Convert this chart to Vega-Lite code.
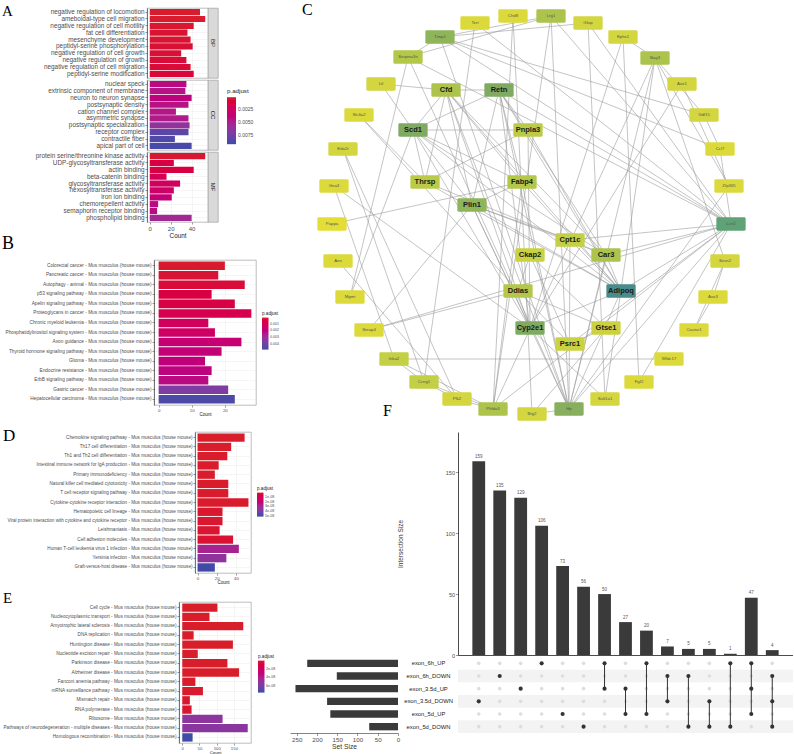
{
"$schema":"https://vega.github.io/schema/vega-lite/v6.json",
"padding":{"left":0,"top":1,"right":0,"bottom":0},
"background":"white",
"config":{
 "font":"Liberation Sans",
 "view":{"stroke":null},
 "axis":{"labelFlush":false,"labelOverlap":false,"titleFontWeight":"normal","labelColor":"#4D4D4D","titleColor":"#1A1A1A","tickColor":"#333333","tickWidth":0.5,"tickSize":2,"gridColor":"#EBEBEB","gridWidth":0.5,"labelPadding":1,"domainColor":"#333333","domainWidth":0.6},
 "legend":{"titleFontWeight":"normal","titleColor":"#1A1A1A","labelColor":"#4D4D4D","padding":0,"gradientStrokeWidth":0,"labelOverlap":false},
 "title":{"font":"Liberation Serif","fontWeight":"normal","fontSize":16,"color":"#000000","anchor":"start","frame":"group","offset":0,"baseline":"alphabetic"}
},
"datasets":{
 "goA":[
  {"cat":"BP","term":"negative regulation of locomotion","count":48,"p":0.0003},
  {"cat":"BP","term":"ameboidal-type cell migration","count":53,"p":0.0003},
  {"cat":"BP","term":"negative regulation of cell motility","count":42,"p":0.0004},
  {"cat":"BP","term":"fat cell differentiation","count":36,"p":0.0005},
  {"cat":"BP","term":"mesenchyme development","count":39,"p":0.0005},
  {"cat":"BP","term":"peptidyl-serine phosphorylation","count":41,"p":0.0006},
  {"cat":"BP","term":"negative regulation of cell growth","count":30,"p":0.0006},
  {"cat":"BP","term":"negative regulation of growth","count":35,"p":0.0007},
  {"cat":"BP","term":"negative regulation of cell migration","count":39,"p":0.0007},
  {"cat":"BP","term":"peptidyl-serine modification","count":42,"p":0.0008},
  {"cat":"CC","term":"nuclear speck","count":35,"p":0.0042},
  {"cat":"CC","term":"extrinsic component of membrane","count":34,"p":0.0045},
  {"cat":"CC","term":"neuron to neuron synapse","count":40,"p":0.0040},
  {"cat":"CC","term":"postsynaptic density","count":37,"p":0.0044},
  {"cat":"CC","term":"cation channel complex","count":25,"p":0.0046},
  {"cat":"CC","term":"asymmetric synapse","count":37,"p":0.0048},
  {"cat":"CC","term":"postsynaptic specialization","count":38,"p":0.0062},
  {"cat":"CC","term":"receptor complex","count":37,"p":0.0082},
  {"cat":"CC","term":"contractile fiber","count":24,"p":0.0086},
  {"cat":"CC","term":"apical part of cell","count":40,"p":0.0088},
  {"cat":"MF","term":"protein serine/threonine kinase activity","count":53,"p":0.0004},
  {"cat":"MF","term":"UDP-glycosyltransferase activity","count":23,"p":0.0012},
  {"cat":"MF","term":"actin binding","count":42,"p":0.0012},
  {"cat":"MF","term":"beta-catenin binding","count":16,"p":0.0020},
  {"cat":"MF","term":"glycosyltransferase activity","count":29,"p":0.0024},
  {"cat":"MF","term":"hexosyltransferase activity","count":23,"p":0.0028},
  {"cat":"MF","term":"iron ion binding","count":21,"p":0.0036},
  {"cat":"MF","term":"chemorepellent activity","count":8,"p":0.0042},
  {"cat":"MF","term":"semaphorin receptor binding","count":7,"p":0.0042},
  {"cat":"MF","term":"phospholipid binding","count":40,"p":0.0055}
 ],
 "keggB":[
  {"term":"Colorectal cancer - Mus musculus (house mouse)","count":20,"p":0.0002},
  {"term":"Pancreatic cancer - Mus musculus (house mouse)","count":18,"p":0.0003},
  {"term":"Autophagy - animal - Mus musculus (house mouse)","count":26,"p":0.0004},
  {"term":"p53 signaling pathway - Mus musculus (house mouse)","count":16,"p":0.0006},
  {"term":"Apelin signaling pathway - Mus musculus (house mouse)","count":23,"p":0.0007},
  {"term":"Proteoglycans in cancer - Mus musculus (house mouse)","count":28,"p":0.0009},
  {"term":"Chronic myeloid leukemia - Mus musculus (house mouse)","count":15,"p":0.0013},
  {"term":"Phosphatidylinositol signaling system - Mus musculus (house mouse)","count":17,"p":0.0014},
  {"term":"Axon guidance - Mus musculus (house mouse)","count":25,"p":0.0018},
  {"term":"Thyroid hormone signaling pathway - Mus musculus (house mouse)","count":19,"p":0.0019},
  {"term":"Glioma - Mus musculus (house mouse)","count":14,"p":0.0020},
  {"term":"Endocrine resistance - Mus musculus (house mouse)","count":16,"p":0.0021},
  {"term":"ErbB signaling pathway - Mus musculus (house mouse)","count":15,"p":0.0022},
  {"term":"Gastric cancer - Mus musculus (house mouse)","count":21,"p":0.0036},
  {"term":"Hepatocellular carcinoma - Mus musculus (house mouse)","count":23,"p":0.0045}
 ],
 "keggD":[
  {"term":"Chemokine signaling pathway - Mus musculus (house mouse)","count":49,"p":1e-12},
  {"term":"Th17 cell differentiation - Mus musculus (house mouse)","count":35,"p":2e-11},
  {"term":"Th1 and Th2 cell differentiation - Mus musculus (house mouse)","count":31,"p":5e-11},
  {"term":"Intestinal immune network for IgA production - Mus musculus (house mouse)","count":22,"p":1e-10},
  {"term":"Primary immunodeficiency - Mus musculus (house mouse)","count":18,"p":2e-10},
  {"term":"Natural killer cell mediated cytotoxicity - Mus musculus (house mouse)","count":32,"p":3e-10},
  {"term":"T cell receptor signaling pathway - Mus musculus (house mouse)","count":32,"p":4e-10},
  {"term":"Cytokine-cytokine receptor interaction - Mus musculus (house mouse)","count":53,"p":5e-10},
  {"term":"Hematopoietic cell lineage - Mus musculus (house mouse)","count":26,"p":1e-9},
  {"term":"Viral protein interaction with cytokine and cytokine receptor - Mus musculus (house mouse)","count":26,"p":1.2e-9},
  {"term":"Leishmaniasis - Mus musculus (house mouse)","count":23,"p":1.5e-9},
  {"term":"Cell adhesion molecules - Mus musculus (house mouse)","count":37,"p":2e-9},
  {"term":"Human T-cell leukemia virus 1 infection - Mus musculus (house mouse)","count":43,"p":2.9e-8},
  {"term":"Yersinia infection - Mus musculus (house mouse)","count":30,"p":3.5e-8},
  {"term":"Graft-versus-host disease - Mus musculus (house mouse)","count":18,"p":5.1e-8}
 ],
 "keggE":[
  {"term":"Cell cycle - Mus musculus (house mouse)","count":102,"p":1e-10},
  {"term":"Nucleocytoplasmic transport - Mus musculus (house mouse)","count":79,"p":2e-10},
  {"term":"Amyotrophic lateral sclerosis - Mus musculus (house mouse)","count":177,"p":3e-10},
  {"term":"DNA replication - Mus musculus (house mouse)","count":33,"p":5e-10},
  {"term":"Huntington disease - Mus musculus (house mouse)","count":147,"p":6e-10},
  {"term":"Nucleotide excision repair - Mus musculus (house mouse)","count":45,"p":8e-10},
  {"term":"Parkinson disease - Mus musculus (house mouse)","count":131,"p":1e-9},
  {"term":"Alzheimer disease - Mus musculus (house mouse)","count":165,"p":1.2e-9},
  {"term":"Fanconi anemia pathway - Mus musculus (house mouse)","count":38,"p":2e-9},
  {"term":"mRNA surveillance pathway - Mus musculus (house mouse)","count":60,"p":2.4e-9},
  {"term":"Mismatch repair - Mus musculus (house mouse)","count":22,"p":3e-9},
  {"term":"RNA polymerase - Mus musculus (house mouse)","count":27,"p":3.5e-9},
  {"term":"Ribosome - Mus musculus (house mouse)","count":117,"p":5.2e-8},
  {"term":"Pathways of neurodegeneration - multiple diseases - Mus musculus (house mouse)","count":190,"p":5.3e-8},
  {"term":"Homologous recombination - Mus musculus (house mouse)","count":30,"p":7.4e-8}
 ],
 "nodes":[
  {"name":"Tert","x":185,"y":15,"d":2,"k":"g"},
  {"name":"Chd8","x":223,"y":8,"d":2,"k":"g"},
  {"name":"Lrg1","x":261,"y":8,"d":8,"k":"g"},
  {"name":"Gfap","x":298,"y":15,"d":3,"k":"g"},
  {"name":"Ephx1","x":333,"y":29,"d":3,"k":"g"},
  {"name":"Bag3","x":365,"y":50,"d":8,"k":"g"},
  {"name":"Aox1","x":392,"y":76,"d":3,"k":"g"},
  {"name":"Gdf15","x":414,"y":107,"d":3,"k":"g"},
  {"name":"Ccl7","x":430,"y":141,"d":2,"k":"g"},
  {"name":"Zfp365","x":439,"y":178,"d":2,"k":"g"},
  {"name":"Lcn2","x":441,"y":216,"d":15,"k":"g"},
  {"name":"Sesn2","x":435,"y":253,"d":3,"k":"g"},
  {"name":"Aox3","x":423,"y":289,"d":2,"k":"g"},
  {"name":"Castor1","x":404,"y":322,"d":2,"k":"g"},
  {"name":"Wfdc17","x":379,"y":351,"d":2,"k":"g"},
  {"name":"Fgf2","x":349,"y":374,"d":2,"k":"g"},
  {"name":"Sult1a1","x":315,"y":391,"d":3,"k":"g"},
  {"name":"Hp","x":279,"y":401,"d":12,"k":"g"},
  {"name":"Btg2","x":242,"y":406,"d":3,"k":"g"},
  {"name":"Phlda3","x":203,"y":401,"d":8,"k":"g"},
  {"name":"Plk2","x":167,"y":391,"d":3,"k":"g"},
  {"name":"Ccng1","x":134,"y":374,"d":5,"k":"g"},
  {"name":"Inka2","x":104,"y":351,"d":5,"k":"g"},
  {"name":"Steap4","x":79,"y":322,"d":2,"k":"g"},
  {"name":"Mgmt","x":60,"y":289,"d":2,"k":"g"},
  {"name":"Aen","x":48,"y":253,"d":2,"k":"g"},
  {"name":"Pappa","x":42,"y":216,"d":1,"k":"g"},
  {"name":"Gna3","x":44,"y":178,"d":2,"k":"g"},
  {"name":"Eda2r","x":53,"y":141,"d":3,"k":"g"},
  {"name":"Slc6a2","x":69,"y":107,"d":2,"k":"g"},
  {"name":"Lif","x":91,"y":76,"d":3,"k":"g"},
  {"name":"Serpina3n","x":118,"y":49,"d":7,"k":"g"},
  {"name":"Timp1","x":150,"y":29,"d":11,"k":"g"},
  {"name":"Cfd","x":156,"y":82,"d":8,"k":"h"},
  {"name":"Retn","x":209,"y":82,"d":13,"k":"h"},
  {"name":"Scd1","x":123,"y":122,"d":13,"k":"h"},
  {"name":"Pnpla3","x":238,"y":122,"d":6,"k":"h"},
  {"name":"Thrsp","x":135,"y":174,"d":6,"k":"h"},
  {"name":"Fabp4","x":232,"y":174,"d":7,"k":"h"},
  {"name":"Plin1","x":182,"y":197,"d":11,"k":"h"},
  {"name":"Cpt1c","x":280,"y":232,"d":5,"k":"h"},
  {"name":"Ckap2","x":240,"y":247,"d":4,"k":"h"},
  {"name":"Car3","x":316,"y":247,"d":8,"k":"h"},
  {"name":"Ddias","x":228,"y":283,"d":7,"k":"h"},
  {"name":"Adipoq","x":331,"y":283,"d":19,"k":"h"},
  {"name":"Cyp2e1","x":240,"y":320,"d":13,"k":"h"},
  {"name":"Gtse1","x":316,"y":320,"d":4,"k":"h"},
  {"name":"Psrc1","x":280,"y":336,"d":4,"k":"h"}
 ],
 "edges":[
  {"s":"Cfd","t":"Retn"},{"s":"Cfd","t":"Scd1"},{"s":"Cfd","t":"Plin1"},{"s":"Cfd","t":"Adipoq"},{"s":"Cfd","t":"Fabp4"},{"s":"Cfd","t":"Car3"},{"s":"Cfd","t":"Cyp2e1"},{"s":"Cfd","t":"Thrsp"},
  {"s":"Retn","t":"Scd1"},{"s":"Retn","t":"Adipoq"},{"s":"Retn","t":"Plin1"},{"s":"Retn","t":"Pnpla3"},{"s":"Retn","t":"Car3"},{"s":"Retn","t":"Cyp2e1"},{"s":"Retn","t":"Fabp4"},
  {"s":"Scd1","t":"Pnpla3"},{"s":"Scd1","t":"Thrsp"},{"s":"Scd1","t":"Adipoq"},{"s":"Scd1","t":"Plin1"},{"s":"Scd1","t":"Car3"},{"s":"Scd1","t":"Cyp2e1"},{"s":"Scd1","t":"Fabp4"},
  {"s":"Pnpla3","t":"Adipoq"},{"s":"Pnpla3","t":"Cyp2e1"},{"s":"Pnpla3","t":"Thrsp"},
  {"s":"Thrsp","t":"Adipoq"},{"s":"Thrsp","t":"Car3"},
  {"s":"Fabp4","t":"Adipoq"},{"s":"Fabp4","t":"Plin1"},
  {"s":"Plin1","t":"Adipoq"},{"s":"Plin1","t":"Car3"},{"s":"Plin1","t":"Cyp2e1"},{"s":"Plin1","t":"Cpt1c"},
  {"s":"Car3","t":"Adipoq"},{"s":"Cpt1c","t":"Adipoq"},{"s":"Cyp2e1","t":"Adipoq"},
  {"s":"Ckap2","t":"Gtse1"},{"s":"Ckap2","t":"Psrc1"},{"s":"Ddias","t":"Gtse1"},{"s":"Ddias","t":"Psrc1"},{"s":"Ddias","t":"Ckap2"},{"s":"Gtse1","t":"Psrc1"},
  {"s":"Lif","t":"Cfd"},{"s":"Lif","t":"Scd1"},
  {"s":"Timp1","t":"Lcn2"},{"s":"Timp1","t":"Serpina3n"},{"s":"Timp1","t":"Hp"},{"s":"Timp1","t":"Gdf15"},{"s":"Timp1","t":"Ccl7"},{"s":"Timp1","t":"Lrg1"},
  {"s":"Serpina3n","t":"Lcn2"},{"s":"Serpina3n","t":"Hp"},{"s":"Serpina3n","t":"Lrg1"},{"s":"Serpina3n","t":"Mgmt"},
  {"s":"Lrg1","t":"Lcn2"},{"s":"Lrg1","t":"Hp"},{"s":"Lrg1","t":"Phlda3"},
  {"s":"Tert","t":"Lcn2"},{"s":"Tert","t":"Ccng1"},
  {"s":"Chd8","t":"Phlda3"},{"s":"Chd8","t":"Btg2"},
  {"s":"Gfap","t":"Lcn2"},{"s":"Gfap","t":"Sult1a1"},{"s":"Gfap","t":"Timp1"},
  {"s":"Ephx1","t":"Cyp2e1"},{"s":"Ephx1","t":"Fgf2"},
  {"s":"Bag3","t":"Gdf15"},{"s":"Bag3","t":"Zfp365"},{"s":"Bag3","t":"Sesn2"},{"s":"Bag3","t":"Hp"},{"s":"Bag3","t":"Sult1a1"},{"s":"Bag3","t":"Phlda3"},{"s":"Bag3","t":"Ephx1"},
  {"s":"Aox1","t":"Cyp2e1"},{"s":"Aox1","t":"Zfp365"},
  {"s":"Gdf15","t":"Ccl7"},{"s":"Ccl7","t":"Lcn2"},
  {"s":"Lcn2","t":"Hp"},{"s":"Lcn2","t":"Car3"},{"s":"Lcn2","t":"Adipoq"},{"s":"Lcn2","t":"Retn"},{"s":"Lcn2","t":"Cpt1c"},{"s":"Lcn2","t":"Phlda3"},{"s":"Lcn2","t":"Steap4"},{"s":"Lcn2","t":"Psrc1"},{"s":"Lcn2","t":"Fgf2"},
  {"s":"Sesn2","t":"Castor1"},{"s":"Aox3","t":"Castor1"},{"s":"Sesn2","t":"Aox3"},
  {"s":"Wfdc17","t":"Inka2"},{"s":"Sult1a1","t":"Cyp2e1"},
  {"s":"Hp","t":"Retn"},{"s":"Hp","t":"Adipoq"},{"s":"Hp","t":"Car3"},{"s":"Hp","t":"Btg2"},{"s":"Hp","t":"Cpt1c"},{"s":"Hp","t":"Plin1"},{"s":"Hp","t":"Fabp4"},{"s":"Hp","t":"Cfd"},
  {"s":"Btg2","t":"Gtse1"},
  {"s":"Phlda3","t":"Ccng1"},{"s":"Phlda3","t":"Plk2"},{"s":"Phlda3","t":"Inka2"},{"s":"Phlda3","t":"Fabp4"},
  {"s":"Plk2","t":"Ccng1"},{"s":"Plk2","t":"Eda2r"},{"s":"Plk2","t":"Aen"},
  {"s":"Ccng1","t":"Inka2"},{"s":"Ccng1","t":"Eda2r"},
  {"s":"Inka2","t":"Gna3"},
  {"s":"Steap4","t":"Ddias"},{"s":"Steap4","t":"Plin1"},
  {"s":"Mgmt","t":"Scd1"},{"s":"Pappa","t":"Fabp4"},{"s":"Gna3","t":"Cyp2e1"},
  {"s":"Slc6a2","t":"Ddias"},{"s":"Slc6a2","t":"Thrsp"},{"s":"Zfp365","t":"Hp"}
 ],
 "upset":[
  {"c":1,"size":159},{"c":2,"size":135},{"c":3,"size":129},{"c":4,"size":106},{"c":5,"size":73},
  {"c":6,"size":56},{"c":7,"size":50},{"c":8,"size":27},{"c":9,"size":20},{"c":10,"size":7},
  {"c":11,"size":5},{"c":12,"size":5},{"c":13,"size":1},{"c":14,"size":47},{"c":15,"size":4}
 ],
 "sets":[
  {"s":"exon_6h_UP","size":224,"row":1},
  {"s":"exon_6h_DOWN","size":151,"row":2},
  {"s":"exon_3.5d_UP","size":253,"row":3},
  {"s":"exon_3.5d_DOWN","size":175,"row":4},
  {"s":"exon_5d_UP","size":167,"row":5},
  {"s":"exon_5d_DOWN","size":71,"row":6}
 ],
 "cells":[
  {"c":1,"s":"exon_6h_UP","m":0},{"c":1,"s":"exon_6h_DOWN","m":0},{"c":1,"s":"exon_3.5d_UP","m":0},{"c":1,"s":"exon_3.5d_DOWN","m":1},{"c":1,"s":"exon_5d_UP","m":0},{"c":1,"s":"exon_5d_DOWN","m":0},
  {"c":2,"s":"exon_6h_UP","m":0},{"c":2,"s":"exon_6h_DOWN","m":1},{"c":2,"s":"exon_3.5d_UP","m":0},{"c":2,"s":"exon_3.5d_DOWN","m":0},{"c":2,"s":"exon_5d_UP","m":0},{"c":2,"s":"exon_5d_DOWN","m":0},
  {"c":3,"s":"exon_6h_UP","m":0},{"c":3,"s":"exon_6h_DOWN","m":0},{"c":3,"s":"exon_3.5d_UP","m":1},{"c":3,"s":"exon_3.5d_DOWN","m":0},{"c":3,"s":"exon_5d_UP","m":0},{"c":3,"s":"exon_5d_DOWN","m":0},
  {"c":4,"s":"exon_6h_UP","m":1},{"c":4,"s":"exon_6h_DOWN","m":0},{"c":4,"s":"exon_3.5d_UP","m":0},{"c":4,"s":"exon_3.5d_DOWN","m":0},{"c":4,"s":"exon_5d_UP","m":0},{"c":4,"s":"exon_5d_DOWN","m":0},
  {"c":5,"s":"exon_6h_UP","m":0},{"c":5,"s":"exon_6h_DOWN","m":0},{"c":5,"s":"exon_3.5d_UP","m":0},{"c":5,"s":"exon_3.5d_DOWN","m":0},{"c":5,"s":"exon_5d_UP","m":1},{"c":5,"s":"exon_5d_DOWN","m":0},
  {"c":6,"s":"exon_6h_UP","m":0},{"c":6,"s":"exon_6h_DOWN","m":0},{"c":6,"s":"exon_3.5d_UP","m":0},{"c":6,"s":"exon_3.5d_DOWN","m":0},{"c":6,"s":"exon_5d_UP","m":0},{"c":6,"s":"exon_5d_DOWN","m":1},
  {"c":7,"s":"exon_6h_UP","m":1},{"c":7,"s":"exon_6h_DOWN","m":0},{"c":7,"s":"exon_3.5d_UP","m":1},{"c":7,"s":"exon_3.5d_DOWN","m":0},{"c":7,"s":"exon_5d_UP","m":0},{"c":7,"s":"exon_5d_DOWN","m":0},
  {"c":8,"s":"exon_6h_UP","m":0},{"c":8,"s":"exon_6h_DOWN","m":0},{"c":8,"s":"exon_3.5d_UP","m":1},{"c":8,"s":"exon_3.5d_DOWN","m":0},{"c":8,"s":"exon_5d_UP","m":1},{"c":8,"s":"exon_5d_DOWN","m":0},
  {"c":9,"s":"exon_6h_UP","m":1},{"c":9,"s":"exon_6h_DOWN","m":0},{"c":9,"s":"exon_3.5d_UP","m":0},{"c":9,"s":"exon_3.5d_DOWN","m":0},{"c":9,"s":"exon_5d_UP","m":1},{"c":9,"s":"exon_5d_DOWN","m":0},
  {"c":10,"s":"exon_6h_UP","m":0},{"c":10,"s":"exon_6h_DOWN","m":1},{"c":10,"s":"exon_3.5d_UP","m":0},{"c":10,"s":"exon_3.5d_DOWN","m":1},{"c":10,"s":"exon_5d_UP","m":0},{"c":10,"s":"exon_5d_DOWN","m":0},
  {"c":11,"s":"exon_6h_UP","m":0},{"c":11,"s":"exon_6h_DOWN","m":1},{"c":11,"s":"exon_3.5d_UP","m":0},{"c":11,"s":"exon_3.5d_DOWN","m":0},{"c":11,"s":"exon_5d_UP","m":0},{"c":11,"s":"exon_5d_DOWN","m":1},
  {"c":12,"s":"exon_6h_UP","m":0},{"c":12,"s":"exon_6h_DOWN","m":0},{"c":12,"s":"exon_3.5d_UP","m":0},{"c":12,"s":"exon_3.5d_DOWN","m":1},{"c":12,"s":"exon_5d_UP","m":0},{"c":12,"s":"exon_5d_DOWN","m":1},
  {"c":13,"s":"exon_6h_UP","m":1},{"c":13,"s":"exon_6h_DOWN","m":0},{"c":13,"s":"exon_3.5d_UP","m":0},{"c":13,"s":"exon_3.5d_DOWN","m":0},{"c":13,"s":"exon_5d_UP","m":0},{"c":13,"s":"exon_5d_DOWN","m":1},
  {"c":14,"s":"exon_6h_UP","m":1},{"c":14,"s":"exon_6h_DOWN","m":0},{"c":14,"s":"exon_3.5d_UP","m":1},{"c":14,"s":"exon_3.5d_DOWN","m":0},{"c":14,"s":"exon_5d_UP","m":1},{"c":14,"s":"exon_5d_DOWN","m":0},
  {"c":15,"s":"exon_6h_UP","m":0},{"c":15,"s":"exon_6h_DOWN","m":1},{"c":15,"s":"exon_3.5d_UP","m":0},{"c":15,"s":"exon_3.5d_DOWN","m":1},{"c":15,"s":"exon_5d_UP","m":0},{"c":15,"s":"exon_5d_DOWN","m":1}
 ]
},
"hconcat":[
 {"vconcat":[
   {"hconcat":[
     {"width":147,"height":1,"data":{"values":[]},"mark":"point","title":{"text":"A","dx":2,"dy":14.5,"fontSize":15}},
     {"vconcat":[
       {"hconcat":[
         {"width":61,"height":70,"view":{"stroke":"#A0A0A0","strokeWidth":0.7},"data":{"name":"goA"},"transform":[{"filter":"datum.cat == 'BP'"}],"mark":"bar",
          "encoding":{
           "y":{"field":"term","type":"nominal","sort":null,"scale":{"paddingInner":0.1,"paddingOuter":0.15},"axis":{"title":null,"labelFontSize":6.4,"labelLimit":400,"grid":true}},
           "x":{"field":"count","type":"quantitative","scale":{"domain":[-2.65,55.65],"nice":false,"zero":false},"axis":{"values":[0,20,40],"labels":false,"ticks":false,"title":null,"grid":true,"domain":false}},
           "x2":{"datum":0},
           "color":{"field":"p","type":"quantitative","scale":{"domain":[0.0092,0.0002],"range":["#3B4CA6","#D91E2B"],"interpolate":"hcl","nice":false,"zero":false},"legend":null}}},
         {"width":10,"height":70,"view":{"fill":"#D9D9D9","stroke":"#A0A0A0","strokeWidth":0.7},"data":{"values":[{"g":"BP"}]},"mark":{"type":"text","angle":90,"fontSize":6,"color":"#1A1A1A"},"encoding":{"text":{"field":"g"}}}
       ],"spacing":0,"bounds":"flush","resolve":{"scale":{"color":"independent"}}},
       {"width":1,"height":72,"data":{"values":[]},"mark":"point"},
       {"hconcat":[
         {"width":61,"height":70,"view":{"stroke":"#A0A0A0","strokeWidth":0.7},"data":{"name":"goA"},"transform":[{"filter":"datum.cat == 'CC'"}],"mark":"bar",
          "encoding":{
           "y":{"field":"term","type":"nominal","sort":null,"scale":{"paddingInner":0.1,"paddingOuter":0.15},"axis":{"title":null,"labelFontSize":6.4,"labelLimit":400,"grid":true}},
           "x":{"field":"count","type":"quantitative","scale":{"domain":[-2.65,55.65],"nice":false,"zero":false},"axis":{"values":[0,20,40],"labels":false,"ticks":false,"title":null,"grid":true,"domain":false}},
           "x2":{"datum":0},
           "color":{"field":"p","type":"quantitative","scale":{"domain":[0.0092,0.0002],"range":["#3B4CA6","#D91E2B"],"interpolate":"hcl","nice":false,"zero":false},
            "legend":{"orient":"none","legendX":80,"legendY":8,"title":"p.adjust","titleFontSize":6.2,"labelFontSize":5,"gradientLength":47,"gradientThickness":9,"values":[0.0025,0.005,0.0075],"format":".4f","titlePadding":3,"labelOffset":2}}}},
         {"width":10,"height":70,"view":{"fill":"#D9D9D9","stroke":"#A0A0A0","strokeWidth":0.7},"data":{"values":[{"g":"CC"}]},"mark":{"type":"text","angle":90,"fontSize":6,"color":"#1A1A1A"},"encoding":{"text":{"field":"g"}}}
       ],"spacing":0,"bounds":"flush","resolve":{"scale":{"color":"independent"}}},
       {"width":1,"height":72,"data":{"values":[]},"mark":"point"},
       {"hconcat":[
         {"width":61,"height":70,"view":{"stroke":"#A0A0A0","strokeWidth":0.7},"data":{"name":"goA"},"transform":[{"filter":"datum.cat == 'MF'"}],"mark":"bar",
          "encoding":{
           "y":{"field":"term","type":"nominal","sort":null,"scale":{"paddingInner":0.1,"paddingOuter":0.15},"axis":{"title":null,"labelFontSize":6.4,"labelLimit":400,"grid":true}},
           "x":{"field":"count","type":"quantitative","scale":{"domain":[-2.65,55.65],"nice":false,"zero":false},"axis":{"values":[0,20,40],"title":"Count","titleFontSize":6.3,"labelFontSize":6,"grid":true,"domain":false,"titlePadding":1}},
           "x2":{"datum":0},
           "color":{"field":"p","type":"quantitative","scale":{"domain":[0.0092,0.0002],"range":["#3B4CA6","#D91E2B"],"interpolate":"hcl","nice":false,"zero":false},"legend":null}}},
         {"width":10,"height":70,"view":{"fill":"#D9D9D9","stroke":"#A0A0A0","strokeWidth":0.7},"data":{"values":[{"g":"MF"}]},"mark":{"type":"text","angle":90,"fontSize":6,"color":"#1A1A1A"},"encoding":{"text":{"field":"g"}}}
       ],"spacing":0,"bounds":"flush","resolve":{"scale":{"color":"independent"}}}
     ],"spacing":0,"bounds":"flush","resolve":{"scale":{"color":"independent"}}}
   ],"spacing":0,"bounds":"flush","resolve":{"scale":{"color":"independent"}}},
   {"width":1,"height":252,"data":{"values":[]},"mark":"point"},
   {"hconcat":[
     {"width":154,"height":1,"data":{"values":[]},"mark":"point","title":{"text":"B","dx":2,"dy":-3.5,"fontSize":18}},
     {"width":102,"height":145,"view":{"stroke":"#A0A0A0","strokeWidth":0.7},"data":{"name":"keggB"},"mark":"bar",
      "encoding":{
       "y":{"field":"term","type":"nominal","sort":null,"scale":{"paddingInner":0.1,"paddingOuter":0.15},"axis":{"title":null,"labelFontSize":4.75,"labelLimit":400,"grid":true}},
       "x":{"field":"count","type":"quantitative","scale":{"domain":[-1.4,29.4],"nice":false,"zero":false},"axis":{"values":[0,10,20],"title":"Count","titleFontSize":4.6,"labelFontSize":4.4,"grid":true,"domain":false,"titlePadding":0.5}},
       "x2":{"datum":0},
       "color":{"field":"p","type":"quantitative","scale":{"domain":[0.00476,0.00014],"range":["#3B4CA6","#D91E2B"],"interpolate":"hcl","nice":false,"zero":false},
        "legend":{"orient":"none","legendX":108,"legendY":51,"title":"p.adjust","titleFontSize":4.6,"labelFontSize":3.6,"gradientLength":32,"gradientThickness":6.5,"values":[0.001,0.002,0.003,0.004],"format":".3f","titlePadding":2,"labelOffset":1.5}}}}
   ],"spacing":0,"bounds":"flush","resolve":{"scale":{"color":"independent"}}},
   {"width":1,"height":172,"data":{"values":[]},"mark":"point"},
   {"hconcat":[
     {"width":195,"height":1,"data":{"values":[]},"mark":"point","title":{"text":"D","dx":3,"dy":16.5,"fontSize":17}},
     {"width":56,"height":141,"view":{"stroke":"#A0A0A0","strokeWidth":0.7},"data":{"name":"keggD"},"mark":"bar",
      "encoding":{
       "y":{"field":"term","type":"nominal","sort":null,"scale":{"paddingInner":0.1,"paddingOuter":0.15},"axis":{"title":null,"labelFontSize":4.6,"labelLimit":400,"grid":true}},
       "x":{"field":"count","type":"quantitative","scale":{"domain":[-2.65,55.65],"nice":false,"zero":false},"axis":{"values":[0,20,40],"title":"Count","titleFontSize":4.6,"labelFontSize":4.4,"grid":true,"domain":false,"titlePadding":0.5}},
       "x2":{"datum":0},
       "color":{"field":"p","type":"quantitative","scale":{"domain":[5.2e-8,0],"range":["#3B4CA6","#D91E2B"],"interpolate":"hcl","nice":false,"zero":false},
        "legend":{"orient":"none","legendX":62,"legendY":54,"title":"p.adjust","titleFontSize":4.6,"labelFontSize":3.6,"gradientLength":24,"gradientThickness":6.5,"values":[1e-8,2e-8,3e-8,4e-8,5e-8],"labelExpr":"replace(format(datum.value, '.0e'), 'e-', 'e-0')","titlePadding":2,"labelOffset":1.5}}}}
   ],"spacing":0,"bounds":"flush","resolve":{"scale":{"color":"independent"}}},
   {"width":1,"height":170,"data":{"values":[]},"mark":"point"},
   {"hconcat":[
     {"width":179,"height":1,"data":{"values":[]},"mark":"point","title":{"text":"E","dx":3,"dy":7.5,"fontSize":15}},
     {"width":72,"height":141,"view":{"stroke":"#A0A0A0","strokeWidth":0.7},"data":{"name":"keggE"},"mark":"bar",
      "encoding":{
       "y":{"field":"term","type":"nominal","sort":null,"scale":{"paddingInner":0.1,"paddingOuter":0.15},"axis":{"title":null,"labelFontSize":4.7,"labelLimit":400,"grid":true}},
       "x":{"field":"count","type":"quantitative","scale":{"domain":[-9.5,199.5],"nice":false,"zero":false},"axis":{"values":[0,50,100,150],"title":"Count","titleFontSize":4.4,"labelFontSize":4.3,"grid":true,"domain":false,"titlePadding":0}},
       "x2":{"datum":0},
       "color":{"field":"p","type":"quantitative","scale":{"domain":[7.45e-8,1.6e-9],"range":["#3B4CA6","#D91E2B"],"interpolate":"hcl","nice":false,"zero":false,"clamp":true},
        "legend":{"orient":"none","legendX":79,"legendY":52,"title":"p.adjust","titleFontSize":4.6,"labelFontSize":3.6,"gradientLength":32,"gradientThickness":6.5,"values":[2e-8,4e-8,6e-8],"labelExpr":"replace(format(datum.value, '.0e'), 'e-', 'e-0')","titlePadding":2,"labelOffset":1.5}}}}
   ],"spacing":0,"bounds":"flush","resolve":{"scale":{"color":"independent"}}}
 ],"spacing":0,"bounds":"flush","resolve":{"scale":{"color":"independent"}}},
 {"vconcat":[
   {"width":502,"height":415,"title":{"text":"C","dx":12,"dy":13.5,"fontSize":16},
    "layer":[
     {"data":{"name":"edges"},
      "transform":[
       {"lookup":"s","from":{"data":{"name":"nodes"},"key":"name","fields":["x","y"]},"as":["sx","sy"]},
       {"lookup":"t","from":{"data":{"name":"nodes"},"key":"name","fields":["x","y"]},"as":["tx","ty"]}],
      "mark":{"type":"rule","color":"#9C9C9C","strokeWidth":0.6},
      "encoding":{
       "x":{"field":"sx","type":"quantitative","scale":{"domain":[0,502],"nice":false,"zero":false},"axis":null},
       "y":{"field":"sy","type":"quantitative","scale":{"domain":[0,415],"nice":false,"zero":false,"reverse":true},"axis":null},
       "x2":{"field":"tx"},"y2":{"field":"ty"}}},
     {"data":{"name":"nodes"},
      "mark":{"type":"point","shape":"M-0.9,-0.46H0.9Q1,-0.46 1,-0.36V0.36Q1,0.46 0.9,0.46H-0.9Q-1,0.46 -1,0.36V-0.36Q-1,-0.46 -0.9,-0.46Z","filled":true,"opacity":1,"size":858,"strokeWidth":0},
      "encoding":{
       "x":{"field":"x","type":"quantitative"},
       "y":{"field":"y","type":"quantitative"},
       "color":{"field":"d","type":"quantitative","scale":{"domain":[1,8,13,19],"range":["#E5DD37","#ACC34C","#80AA62","#4A8B8B"]},"legend":null}}},
     {"data":{"name":"nodes"},"transform":[{"filter":"datum.k == 'h'"}],
      "mark":{"type":"text","fontSize":7.5,"fontWeight":"bold","color":"#1A1A1A"},
      "encoding":{"x":{"field":"x","type":"quantitative"},"y":{"field":"y","type":"quantitative"},"text":{"field":"name"}}},
     {"data":{"name":"nodes"},"transform":[{"filter":"datum.k == 'g'"}],
      "mark":{"type":"text","fontSize":4.3,"color":"#555555"},
      "encoding":{"x":{"field":"x","type":"quantitative"},"y":{"field":"y","type":"quantitative"},"text":{"field":"name"}}}
    ]},
   {"width":1,"height":9,"data":{"values":[]},"mark":"point"},
   {"hconcat":[
     {"width":168,"height":1,"data":{"values":[]},"mark":"point","title":{"text":"F","dx":93,"dy":-9.5,"fontSize":16}},
     {"width":335,"height":223,"data":{"name":"upset"},
      "encoding":{
       "x":{"field":"c","type":"ordinal","scale":{"type":"band","paddingInner":0.39,"paddingOuter":0.685},"axis":{"labels":false,"ticks":false,"title":null,"domain":true,"domainColor":"#000000","domainWidth":0.7}},
       "y":{"field":"size","type":"quantitative","scale":{"domain":[0,183],"nice":false},"axis":{"values":[0,50,100,150],"title":"Intersection Size","titleFontSize":6.5,"titleColor":"#333333","titlePadding":42,"labelFontSize":5.5,"grid":false,"domain":true,"domainColor":"#000000","domainWidth":0.7,"tickSize":2.5}}},
      "layer":[
       {"mark":{"type":"bar","color":"#3A3A3A"}},
       {"mark":{"type":"text","baseline":"bottom","dy":-2.5,"fontSize":4.5,"color":"#555555"},"encoding":{"text":{"field":"size"}}}
      ]}
   ],"spacing":0,"bounds":"flush"},
   {"width":1,"height":225,"data":{"values":[]},"mark":"point"},
   {"hconcat":[
     {"width":108,"height":76,"data":{"name":"sets"},"mark":{"type":"bar","color":"#3A3A3A"},
      "encoding":{
       "y":{"field":"s","type":"nominal","sort":["exon_6h_UP","exon_6h_DOWN","exon_3.5d_UP","exon_3.5d_DOWN","exon_5d_UP","exon_5d_DOWN"],"scale":{"paddingInner":0.42,"paddingOuter":0.21},
            "axis":{"orient":"right","title":null,"ticks":false,"domain":false,"labelAlign":"center","labelPadding":30,"labelFontSize":5.8,"labelColor":"#1A1A1A"}},
       "x":{"field":"size","type":"quantitative","scale":{"domain":[0,266.5],"reverse":true,"nice":false},
            "axis":{"values":[0,50,100,150,200,250],"title":"Set Size","titleFontSize":6.7,"titleColor":"#333333","titlePadding":1,"labelFontSize":6.2,"grid":false,"domain":true,"tickSize":2.5}}}},
     {"width":335,"height":76,
      "layer":[
       {"data":{"name":"sets"},"transform":[{"filter":"datum.row % 2 == 0"}],"mark":{"type":"rect","color":"#F3F3F3"},
        "encoding":{"y":{"field":"s","type":"nominal","sort":["exon_6h_UP","exon_6h_DOWN","exon_3.5d_UP","exon_3.5d_DOWN","exon_5d_UP","exon_5d_DOWN"],"scale":{"paddingInner":0,"paddingOuter":0},"axis":null}}},
       {"data":{"name":"cells"},"transform":[{"filter":"datum.m == 0"}],"mark":{"type":"circle","size":13,"color":"#DDDDDD","opacity":1},
        "encoding":{"x":{"field":"c","type":"ordinal","scale":{"type":"band","paddingInner":0.39,"paddingOuter":0.685},"axis":null},
                    "y":{"field":"s","type":"nominal","sort":["exon_6h_UP","exon_6h_DOWN","exon_3.5d_UP","exon_3.5d_DOWN","exon_5d_UP","exon_5d_DOWN"]}}},
       {"data":{"name":"cells"},"transform":[{"filter":"datum.m == 1"}],"mark":{"type":"line","color":"#333333","strokeWidth":1},
        "encoding":{"x":{"field":"c","type":"ordinal"},"y":{"field":"s","type":"nominal","sort":["exon_6h_UP","exon_6h_DOWN","exon_3.5d_UP","exon_3.5d_DOWN","exon_5d_UP","exon_5d_DOWN"]},"detail":{"field":"c"}}},
       {"data":{"name":"cells"},"transform":[{"filter":"datum.m == 1"}],"mark":{"type":"circle","size":17,"color":"#333333","opacity":1},
        "encoding":{"x":{"field":"c","type":"ordinal"},"y":{"field":"s","type":"nominal","sort":["exon_6h_UP","exon_6h_DOWN","exon_3.5d_UP","exon_3.5d_DOWN","exon_5d_UP","exon_5d_DOWN"]}}}
      ]}
   ],"spacing":60,"bounds":"flush"}
 ],"spacing":0,"bounds":"flush","resolve":{"scale":{"color":"independent"}}}
],
"spacing":290,
"bounds":"flush",
"resolve":{"scale":{"color":"independent"},"legend":{"color":"independent"}}
}
